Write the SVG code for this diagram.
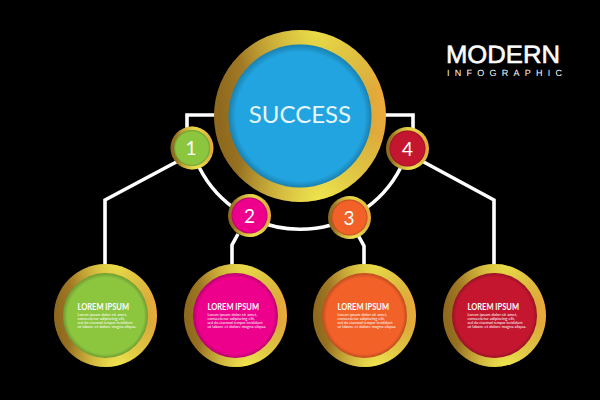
<svg xmlns="http://www.w3.org/2000/svg" width="600" height="400" viewBox="0 0 600 400">
<style>
.gold{fill:url(#goldH)}
.sheen{fill:url(#goldT)}
.sheenb{fill:url(#goldB)}
.wire{fill:none;stroke:#fff;stroke-width:3.6}
.shade{fill:url(#shade)}
.num{font-family:Lato,"Open Sans",sans-serif;font-size:19px;fill:#fff;text-anchor:middle}
.head{font-family:Lato,"Open Sans",sans-serif;font-weight:700;font-size:8.8px;fill:#fff}
.body{font-family:Lato,"Open Sans",sans-serif;font-size:4.1px;fill:#fff}
</style>
<defs>
<linearGradient id="goldH" x1="0" y1="0.1" x2="1" y2="0">
<stop offset="0" stop-color="#8f6a1e"/><stop offset=".25" stop-color="#ad842a"/><stop offset=".55" stop-color="#c4a033"/><stop offset=".85" stop-color="#d8aa3a"/><stop offset="1" stop-color="#f8ab3c"/>
</linearGradient>
<radialGradient id="goldT" cx=".6" cy="0" r=".48">
<stop offset="0" stop-color="#ece04a" stop-opacity=".95"/><stop offset="1" stop-color="#ece04a" stop-opacity="0"/>
</radialGradient>
<radialGradient id="goldB" cx=".62" cy="1" r=".52">
<stop offset="0" stop-color="#f0e650"/><stop offset="1" stop-color="#f0e650" stop-opacity="0"/>
</radialGradient>
<radialGradient id="shade" cx=".5" cy=".5" r=".5" fx=".52" fy=".54">
<stop offset=".9" stop-color="#000" stop-opacity="0"/><stop offset="1" stop-color="#000" stop-opacity=".22"/>
</radialGradient>
</defs>
<rect width="600" height="400" fill="#000"/>
<g id="connectors">
<path class="wire" d="M228 115H187V135"/>
<path class="wire" d="M372 115H413V135"/>
<path class="wire" d="M180 160L105 200V266"/>
<path class="wire" d="M420 160L494 200V266"/>
<path class="wire" d="M199 167A113 113 0 0 0 401 167"/>
<path class="wire" d="M238 234L232 245V266"/>
<path class="wire" d="M358 235L364 246V266"/>
</g>
<g id="hub">
<circle class="gold" cx="300" cy="116" r="86"/><circle class="sheen" cx="300" cy="116" r="86"/><circle class="sheenb" cx="300" cy="116" r="86"/>
<circle cx="300" cy="116" r="71.500" fill="#22a4e0"/><circle class="shade" cx="300" cy="116" r="71.500"/>
<text x="300" y="123" font-family="Lato,'Open Sans',sans-serif" font-size="24" fill="#e6f6fd" text-anchor="middle">SUCCESS</text>
</g>
<g id="badge-1">
<circle class="gold" cx="192" cy="148" r="21.500"/><circle class="sheen" cx="192" cy="148" r="21.500"/><circle class="sheenb" cx="192" cy="148" r="21.500"/>
<circle cx="192" cy="148" r="18" fill="#8cc63f"/><circle class="shade" cx="192" cy="148" r="18"/>
<text class="num" x="191" y="155">1</text>
</g>
<g id="badge-2">
<circle class="gold" cx="249.500" cy="215.500" r="21.500"/><circle class="sheen" cx="249.500" cy="215.500" r="21.500"/><circle class="sheenb" cx="249.500" cy="215.500" r="21.500"/>
<circle cx="249.500" cy="215.500" r="18" fill="#ec008c"/><circle class="shade" cx="249.500" cy="215.500" r="18"/>
<text class="num" x="249.500" y="222.500">2</text>
</g>
<g id="badge-3">
<circle class="gold" cx="349.500" cy="217.500" r="21.500"/><circle class="sheen" cx="349.500" cy="217.500" r="21.500"/><circle class="sheenb" cx="349.500" cy="217.500" r="21.500"/>
<circle cx="349.500" cy="217.500" r="18" fill="#f26128"/><circle class="shade" cx="349.500" cy="217.500" r="18"/>
<text class="num" x="349" y="224.500">3</text>
</g>
<g id="badge-4">
<circle class="gold" cx="407.500" cy="148.500" r="21.500"/><circle class="sheen" cx="407.500" cy="148.500" r="21.500"/><circle class="sheenb" cx="407.500" cy="148.500" r="21.500"/>
<circle cx="407.500" cy="148.500" r="18" fill="#c4172f"/><circle class="shade" cx="407.500" cy="148.500" r="18"/>
<text class="num" x="407.500" y="155.500">4</text>
</g>
<g id="card-1">
<circle class="gold" cx="105.500" cy="315.500" r="51.500"/><circle class="sheen" cx="105.500" cy="315.500" r="51.500"/><circle class="sheenb" cx="105.500" cy="315.500" r="51.500"/>
<circle cx="105.500" cy="315.500" r="42.500" fill="#8cc63f"/><circle class="shade" cx="105.500" cy="315.500" r="42.500"/>
<g opacity=".99">
<text class="head" x="77.500" y="310" textLength="51.500" lengthAdjust="spacingAndGlyphs">LOREM IPSUM</text>
<text class="body" x="77.500" y="316.200">Lorem ipsum dolor sit amet,</text>
<text class="body" x="77.500" y="320">consectetur adipiscing elit,</text>
<text class="body" x="77.500" y="324" textLength="55" lengthAdjust="spacingAndGlyphs">sed do eiusmod tempor incididunt</text>
<text class="body" x="77.500" y="328">ut labore et dolore magna aliqua.</text>
</g>
</g>
<g id="card-2">
<circle class="gold" cx="235.500" cy="315.500" r="51.500"/><circle class="sheen" cx="235.500" cy="315.500" r="51.500"/><circle class="sheenb" cx="235.500" cy="315.500" r="51.500"/>
<circle cx="235.500" cy="315.500" r="42.500" fill="#ec008c"/><circle class="shade" cx="235.500" cy="315.500" r="42.500"/>
<g opacity=".99">
<text class="head" x="207.500" y="310" textLength="51.500" lengthAdjust="spacingAndGlyphs">LOREM IPSUM</text>
<text class="body" x="207.500" y="316.200">Lorem ipsum dolor sit amet,</text>
<text class="body" x="207.500" y="320">consectetur adipiscing elit,</text>
<text class="body" x="207.500" y="324" textLength="55" lengthAdjust="spacingAndGlyphs">sed do eiusmod tempor incididunt</text>
<text class="body" x="207.500" y="328">ut labore et dolore magna aliqua.</text>
</g>
</g>
<g id="card-3">
<circle class="gold" cx="364.500" cy="315.500" r="51.500"/><circle class="sheen" cx="364.500" cy="315.500" r="51.500"/><circle class="sheenb" cx="364.500" cy="315.500" r="51.500"/>
<circle cx="364.500" cy="315.500" r="42.500" fill="#f26128"/><circle class="shade" cx="364.500" cy="315.500" r="42.500"/>
<g opacity=".99">
<text class="head" x="337.500" y="310" textLength="51.500" lengthAdjust="spacingAndGlyphs">LOREM IPSUM</text>
<text class="body" x="337.500" y="316.200">Lorem ipsum dolor sit amet,</text>
<text class="body" x="337.500" y="320">consectetur adipiscing elit,</text>
<text class="body" x="337.500" y="324" textLength="55" lengthAdjust="spacingAndGlyphs">sed do eiusmod tempor incididunt</text>
<text class="body" x="337.500" y="328">ut labore et dolore magna aliqua.</text>
</g>
</g>
<g id="card-4">
<circle class="gold" cx="494.500" cy="315.500" r="51.500"/><circle class="sheen" cx="494.500" cy="315.500" r="51.500"/><circle class="sheenb" cx="494.500" cy="315.500" r="51.500"/>
<circle cx="494.500" cy="315.500" r="42.500" fill="#c4172f"/><circle class="shade" cx="494.500" cy="315.500" r="42.500"/>
<g opacity=".99">
<text class="head" x="467.500" y="310" textLength="51.500" lengthAdjust="spacingAndGlyphs">LOREM IPSUM</text>
<text class="body" x="467.500" y="316.200">Lorem ipsum dolor sit amet,</text>
<text class="body" x="467.500" y="320">consectetur adipiscing elit,</text>
<text class="body" x="467.500" y="324" textLength="55" lengthAdjust="spacingAndGlyphs">sed do eiusmod tempor incididunt</text>
<text class="body" x="467.500" y="328">ut labore et dolore magna aliqua.</text>
</g>
</g>
<g id="title" fill="#fff" font-family="'Liberation Sans',Arial,sans-serif" opacity=".99" text-rendering="geometricPrecision">
<text x="446" y="63" font-size="25" stroke="#fff" stroke-width=".6" textLength="114" lengthAdjust="spacingAndGlyphs">MODERN</text>
<text x="447" y="76" font-size="9" textLength="115">INFOGRAPHIC</text>
</g>
</svg>
